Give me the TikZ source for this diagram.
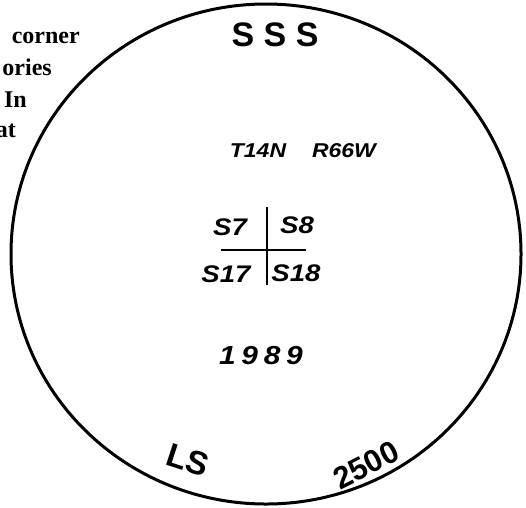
\documentclass[tikz,border=0pt]{standalone}
\usepackage{fontspec}
\setmainfont{Liberation Serif}
\newfontfamily\stampfont{Liberation Sans}
\usepackage{tikz}
\colorlet{ink}{black}
\newcommand{\fsz}[1]{\fontsize{#1}{#1}\selectfont}

\begin{document}
\begin{tikzpicture}[x=1pt,y=-1pt,
  sidetxt/.style={font=\bfseries\fsz{24},inner sep=0pt,anchor=base east},
  hand/.style={font=\stampfont\bfseries\itshape\fsz{#1},xscale=1.15,inner sep=0pt},
  stamp/.style={font=\stampfont\bfseries\fsz{#1},inner sep=0pt}]
\useasboundingbox (0,0) rectangle (526,507);
% text of the page, cut at the left edge
\node[sidetxt] (l1) at (80,43) {corner};
\node[sidetxt] (l2) at (52,75) {ories};
\node[sidetxt] (l3) at (27,107) {In};
\node[sidetxt] (l4) at (16,137) {at};
% the stamp ring
\draw[ink,line width=3pt] (266,254) ellipse [x radius=255,y radius=250];
\node[stamp=34] (sss) at (275,34.5) {S S S};
\node[hand=20] (twp) at (258,151) {T14N};
\node[hand=20] (rng) at (344,151) {R66W};
% section cross
\coordinate (vt) at (267,207); \coordinate (vb) at (267,285);
\coordinate (hl) at (221,250); \coordinate (hr) at (306,250);
\draw[ink,line width=2.5pt] (vt)--(vb) (hl)--(hr);
\node[hand=24] (s7) at (230,227) {S7};  \node[hand=24] (s8) at (297,225) {S8};
\node[hand=24] (s17) at (226,274) {S17}; \node[hand=24] (s18) at (296,273) {S18};
\node[hand=26] (yr) at (261,356) {1\hspace{5pt}9\hspace{5pt}8\hspace{5pt}9};
\node[stamp=33,rotate=-18] (ls) at (188,460) {LS};
\node[stamp=31,rotate=27] (elev) at (366,465) {2500};
\end{tikzpicture}
\end{document}
